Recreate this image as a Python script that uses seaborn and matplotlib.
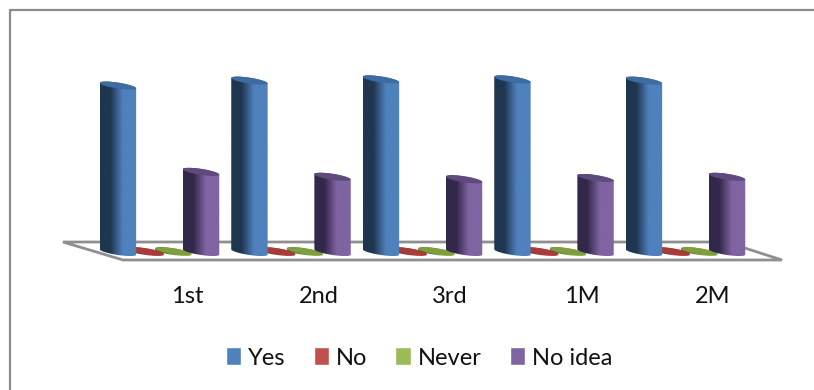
import numpy as np
import pandas as pd
import matplotlib
matplotlib.use("Agg")
import matplotlib.pyplot as plt
import seaborn as sns
from matplotlib.colors import LinearSegmentedColormap
from matplotlib.path import Path
from matplotlib.patches import PathPatch, Polygon
from matplotlib.lines import Line2D
from matplotlib.transforms import Affine2D

categories = ["1st", "2nd", "3rd", "1M", "2M"]
series_names = ["Yes", "No", "Never", "No idea"]
yes_values = [67.5, 69.5, 70.0, 70.0, 69.5]
no_values = [0.3, 0.3, 0.3, 0.3, 0.3]
never_values = [0.3, 0.3, 0.3, 0.3, 0.3]
no_idea_values = [32.5, 30.5, 29.5, 30.0, 30.5]

base_colors = ["#4f81bd", "#c0504d", "#9bbb59", "#8064a2"]
dark_colors = ["#1f3650", "#5a2523", "#4a5a2a", "#33284a"]
cap_colors = ["#3d6ca3", "#a83c39", "#7f9f3e", "#5f4a7e"]
layer_order = {"Yes": 5, "No": 2, "Never": 3, "No idea": 4}

W, H = 814, 390
AXES_BOTTOM = 278
PX_PER_CAT = 131.5
PX_PER_UNIT = 2.465
ORIGIN_X, ORIGIN_Y = 159.5, 252.0
FONT_SIZE = 17

sns.set_theme(style="white")
plt.rcParams["font.family"] = ["Lato", "DejaVu Sans"]

frame = pd.DataFrame({
    "period": categories * 4,
    "answer": np.repeat(series_names, len(categories)),
    "share": yes_values + no_values + never_values + no_idea_values,
})

fig = plt.figure(figsize=(W / 100, H / 100), dpi=100, facecolor="white")
ax = fig.add_axes([0, 1 - AXES_BOTTOM / H, 1, AXES_BOTTOM / H])
sns.barplot(data=frame, x="period", y="share", hue="answer", order=categories,
            hue_order=series_names, palette=base_colors, width=0.8426, gap=0,
            saturation=1, errorbar=None, ax=ax)

xlim = (-ORIGIN_X / PX_PER_CAT, (W - ORIGIN_X) / PX_PER_CAT)
ylim = ((ORIGIN_Y - AXES_BOTTOM) / PX_PER_UNIT, ORIGIN_Y / PX_PER_UNIT)

# Screen-space transform for the chart frame and the floor plate
screen = Affine2D().scale(1, -1).translate(0, H)
fig.add_artist(Line2D([9.5, 9.5, 814], [390, 10, 10], color="#8c8c8c", lw=1.6,
                      transform=screen))
ax.add_patch(Polygon([(63, 242), (726, 242), (782, 260), (123, 260)], closed=True,
                     fc="white", ec="#8f8f8f", lw=2.0, transform=screen, zorder=1))


def cylinder(cx, height, half, base, dark, cap, z):
    """Draw a tilted 3D column between value 0 and the given height."""
    shear = 2.7 / PX_PER_UNIT / half
    minor = 3.0 / PX_PER_UNIT
    t = np.linspace(np.pi, 2 * np.pi, 40)
    low_x = half * np.cos(t)
    low_y = -shear * low_x + minor * np.sin(t)
    t2 = np.linspace(0, np.pi, 40)
    up_x = half * np.cos(t2)
    up_y = -shear * up_x + minor * np.sin(t2)

    body = np.vstack([
        np.column_stack([cx + low_x, low_y]),
        np.column_stack([cx + up_x, height + up_y]),
    ])
    body_path = Path(np.vstack([body, body[0]]), closed=True)
    cmap = LinearSegmentedColormap.from_list(
        "shade", [(0, dark), (0.28, dark), (0.62, base), (1, base)])
    img = ax.imshow(np.linspace(0, 1, 128).reshape(1, -1), cmap=cmap, aspect="auto",
                    extent=(cx - half, cx + half, -10, height + 10),
                    interpolation="bilinear", zorder=z)
    clip = PathPatch(body_path, transform=ax.transData, fc="none", ec="none")
    ax.add_patch(clip)
    img.set_clip_path(clip)

    cap_x = np.concatenate([low_x, up_x])
    cap_y = np.concatenate([low_y, up_y]) + height
    ax.add_patch(Polygon(np.column_stack([cx + cap_x, cap_y]), closed=True,
                         fc=cap, ec="none", zorder=z + 0.1))


half_width = 18.2 / PX_PER_CAT
bars_per_series = len(categories)
for s, name in enumerate(series_names):
    for i in range(bars_per_series):
        bar = ax.containers[s][i]
        center = bar.get_x() + bar.get_width() / 2
        cylinder(center, bar.get_height(), half_width, base_colors[s],
                 dark_colors[s], cap_colors[s], layer_order[name])
    for bar in ax.containers[s]:
        bar.set_visible(False)

ax.set_xlim(*xlim)
ax.set_ylim(*ylim)
ax.set_xlabel("")
ax.set_ylabel("")
ax.set_yticks([])
ax.set_xticks(np.arange(len(categories)) + 0.21, categories)
ax.tick_params(axis="x", length=0, pad=5.5, labelsize=FONT_SIZE, labelcolor="#111111")
ax.patch.set_alpha(0)
sns.despine(ax=ax, left=True, bottom=True)

sns.move_legend(ax, "center", bbox_to_anchor=(419 / W, 1 - 358 / H),
                bbox_transform=fig.transFigure, ncol=4, frameon=False, title=None,
                fontsize=FONT_SIZE, handlelength=0.64, handleheight=0.8,
                handletextpad=0.3, columnspacing=1.2)
for text in ax.get_legend().get_texts():
    text.set_color("#111111")

fig.savefig("out.png", dpi=100, facecolor="white")
